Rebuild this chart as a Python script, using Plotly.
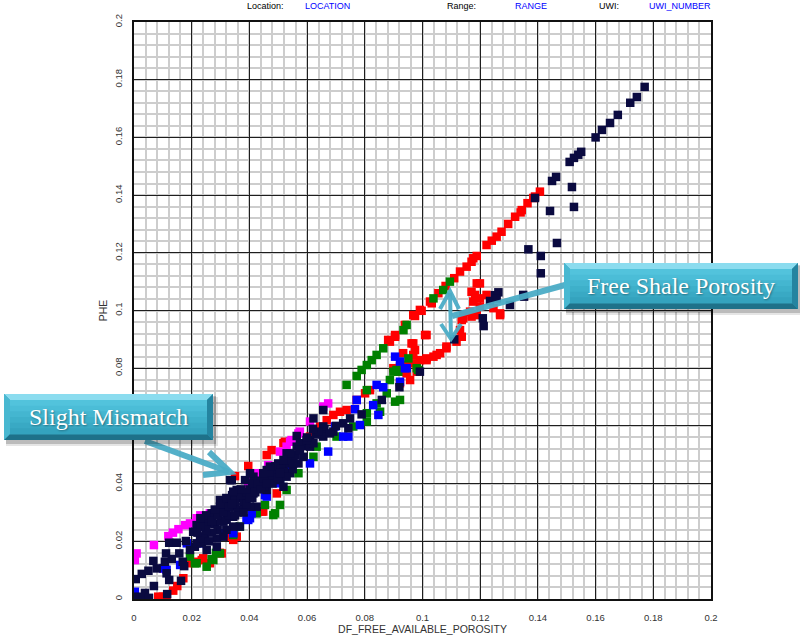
import plotly.graph_objects as go

# ---- data: DF_FREE_AVAILABLE_POROSITY (x) vs PHE (y), one list pair per zone ----
navy_x = [0.0006, 0.0009, 0.0038, 0.0027, 0.0050, 0.0069, 0.0079, 0.0067, 0.0111, 0.0107, 0.0113, 0.0122,
          0.0115, 0.0131, 0.0122, 0.0148, 0.0157, 0.0163, 0.0174, 0.0169, 0.0194, 0.0180, 0.0211, 0.0235,
          0.0217, 0.0205, 0.0246, 0.0263, 0.0269, 0.0287, 0.0298, 0.0310, 0.0333, 0.0344, 0.0367, 0.0379,
          0.0425, 0.0240, 0.0030, 0.0052,
          0.0333, 0.0414, 0.0460, 0.0518, 0.0552, 0.0564, 0.0529, 0.0483, 0.0437, 0.0390, 0.0344, 0.0298,
          0.0275, 0.0252, 0.0229, 0.0217, 0.0321, 0.0367, 0.0402, 0.0344, 0.0310, 0.0287, 0.0252, 0.0460,
          0.0506, 0.0541, 0.0570, 0.0518, 0.0414, 0.0385, 0.0356,
          0.0300, 0.0320, 0.0330, 0.0350, 0.0360, 0.0380, 0.0400, 0.0420, 0.0440, 0.0470, 0.0490, 0.0500,
          0.0530, 0.0280, 0.0290, 0.0270, 0.0260, 0.0310, 0.0340, 0.0360, 0.0390, 0.0410, 0.0450, 0.0480,
          0.0320, 0.0300, 0.0250, 0.0240,
          0.0230, 0.0250, 0.0270, 0.0290, 0.0310, 0.0330, 0.0350, 0.0370, 0.0390, 0.0410, 0.0430, 0.0450,
          0.0470, 0.0490, 0.0510, 0.0540, 0.0560, 0.0590, 0.0610, 0.0630, 0.0660, 0.0280, 0.0300, 0.0320,
          0.0340, 0.0370, 0.0400, 0.0420, 0.0440, 0.0460, 0.0230, 0.0220, 0.0260, 0.0350, 0.0380, 0.0500,
          0.0520, 0.0550,
          0.0991, 0.0920, 0.0859, 0.0789, 0.0749, 0.0725, 0.0743, 0.0691, 0.0656, 0.0656, 0.0622, 0.0564,
          0.0575, 0.0610, 0.0622, 0.0541, 0.0587, 0.0552, 0.0518, 0.0529, 0.0471, 0.0448, 0.0402, 0.0339,
          0.0344, 0.0506, 0.0598, 0.0575, 0.0656, 0.0679, 0.0700, 0.0640, 0.0600, 0.0620,
          0.1110, 0.1209, 0.1212, 0.1263, 0.1251, 0.1234, 0.1303, 0.1352, 0.1257, 0.1349, 0.1410, 0.1410,
          0.1367, 0.1466, 0.1442, 0.1525, 0.1390, 0.1518, 0.1449, 0.1463, 0.1510, 0.1525, 0.1540, 0.1550,
          0.1600, 0.1622, 0.1650, 0.1677, 0.1720, 0.1743, 0.1770]
navy_y = [0.0069, 0.0008, 0.0021, 0.0087, 0.0098, 0.0045, 0.0106, 0.0132, 0.0158, 0.0129, 0.0089, 0.0066,
          0.0017, 0.0139, 0.0195, 0.0195, 0.0158, 0.0063, 0.0114, 0.0129, 0.0170, 0.0201, 0.0181, 0.0193,
          0.0256, 0.0233, 0.0216, 0.0262, 0.0297, 0.0210, 0.0320, 0.0268, 0.0332, 0.0285, 0.0251, 0.0320,
          0.0320, 0.0274, 0.0006, 0.0004,
          0.0412, 0.0424, 0.0447, 0.0459, 0.0493, 0.0528, 0.0505, 0.0424, 0.0389, 0.0366, 0.0343, 0.0343,
          0.0297, 0.0262, 0.0216, 0.0193, 0.0274, 0.0308, 0.0320, 0.0251, 0.0216, 0.0181, 0.0170, 0.0378,
          0.0412, 0.0436, 0.0470, 0.0389, 0.0366, 0.0412, 0.0378,
          0.0300, 0.0310, 0.0290, 0.0320, 0.0350, 0.0340, 0.0380, 0.0390, 0.0410, 0.0420, 0.0440, 0.0470,
          0.0470, 0.0260, 0.0240, 0.0230, 0.0280, 0.0330, 0.0360, 0.0300, 0.0330, 0.0350, 0.0390, 0.0400,
          0.0240, 0.0270, 0.0240, 0.0210,
          0.0250, 0.0290, 0.0270, 0.0290, 0.0300, 0.0320, 0.0340, 0.0360, 0.0370, 0.0400, 0.0400, 0.0420,
          0.0440, 0.0460, 0.0450, 0.0480, 0.0500, 0.0530, 0.0550, 0.0570, 0.0590, 0.0310, 0.0330, 0.0350,
          0.0330, 0.0380, 0.0350, 0.0370, 0.0380, 0.0400, 0.0280, 0.0230, 0.0200, 0.0290, 0.0300, 0.0420,
          0.0440, 0.0450,
          0.0788, 0.0734, 0.0690, 0.0640, 0.0626, 0.0609, 0.0592, 0.0580, 0.0563, 0.0655, 0.0626, 0.0565,
          0.0540, 0.0528, 0.0540, 0.0505, 0.0493, 0.0470, 0.0482, 0.0424, 0.0459, 0.0436, 0.0436, 0.0412,
          0.0372, 0.0436, 0.0551, 0.0516, 0.0598, 0.0574, 0.0600, 0.0580, 0.0560, 0.0590,
          0.0900, 0.0973, 0.0946, 0.1063, 0.1053, 0.1033, 0.1019, 0.1048, 0.1042, 0.1054, 0.1189, 0.1129,
          0.1212, 0.1234, 0.1345, 0.1359, 0.1390, 0.1428, 0.1449, 0.1463, 0.1515, 0.1529, 0.1540, 0.1550,
          0.1600, 0.1626, 0.1650, 0.1678, 0.1720, 0.1740, 0.1775]

red_x = [0.0084, 0.0113, 0.0136, 0.0171, 0.0217, 0.0263, 0.0240, 0.0298, 0.0344, 0.0356, 0.0443, 0.0188,
         0.0100, 0.0150,
         0.0396, 0.0350, 0.0477, 0.0523, 0.0333, 0.0344, 0.0448, 0.0495, 0.0304, 0.0235,
         0.1009, 0.0968, 0.0991, 0.1032, 0.0887, 0.0905, 0.0968, 0.0974, 0.1014, 0.1049, 0.1083, 0.0945,
         0.0957, 0.0933, 0.0922, 0.0818, 0.0801, 0.0772, 0.0737, 0.0714, 0.0691, 0.0668, 0.0645, 0.0622,
         0.0610, 0.0541, 0.0518, 0.0460, 0.0575,
         0.0881, 0.0905, 0.0939, 0.0974, 0.0997, 0.1026, 0.1055, 0.1080, 0.1110, 0.1130, 0.1153, 0.1170,
         0.1176, 0.1188, 0.1222, 0.1240, 0.1257, 0.1274, 0.1297, 0.1321, 0.1340, 0.1344, 0.1364, 0.1384,
         0.1390, 0.1407,
         0.1188, 0.1170, 0.1182, 0.1199, 0.1222, 0.1176, 0.1199, 0.1165, 0.1141, 0.1170, 0.1246, 0.1269,
         0.1188, 0.1130, 0.1136, 0.1118, 0.1083, 0.1061, 0.1038, 0.1014, 0.0991, 0.0968, 0.0945, 0.0922,
         0.1014, 0.0962, 0.0968, 0.0980, 0.0922, 0.0899, 0.0945, 0.1199, 0.1269, 0.1141, 0.1136]
red_y = [0.0008, 0.0008, 0.0029, 0.0072, 0.0129, 0.0124, 0.0141, 0.0160, 0.0214, 0.0216, 0.0303, 0.0124,
         0.0008, 0.0045,
         0.0461, 0.0426, 0.0516, 0.0545, 0.0216, 0.0205, 0.0303, 0.0366, 0.0158, 0.0135,
         0.0915, 0.0984, 0.1002, 0.1025, 0.0892, 0.0909, 0.0886, 0.0863, 0.0828, 0.0846, 0.0869, 0.0805,
         0.0759, 0.0852, 0.0748, 0.0724, 0.0713, 0.0690, 0.0655, 0.0649, 0.0638, 0.0620, 0.0598, 0.0580,
         0.0563, 0.0545, 0.0540, 0.0499, 0.0528,
         0.0898, 0.0915, 0.0950, 0.0981, 0.0999, 0.1031, 0.1060, 0.1085, 0.1112, 0.1135, 0.1152, 0.1169,
         0.1181, 0.1189, 0.1227, 0.1242, 0.1256, 0.1273, 0.1300, 0.1325, 0.1340, 0.1348, 0.1372, 0.1390,
         0.1395, 0.1412,
         0.1094, 0.1065, 0.1054, 0.1042, 0.1054, 0.1031, 0.1014, 0.0996, 0.0984, 0.0979, 0.1008, 0.0984,
         0.0984, 0.0932, 0.0909, 0.0892, 0.0875, 0.0852, 0.0840, 0.0834, 0.0828, 0.0817, 0.0811, 0.0805,
         0.0915, 0.0886, 0.0846, 0.0788, 0.0788, 0.0800, 0.0782, 0.1094, 0.0990, 0.0973, 0.0967]

green_x = [0.0194, 0.0211, 0.0252, 0.0269, 0.0284, 0.0344, 0.0425, 0.0506, 0.0483, 0.0454, 0.0275, 0.0298,
           0.0367, 0.0344, 0.0425, 0.0217,
           0.0483, 0.0506, 0.0529, 0.0489, 0.0570, 0.0622, 0.0633, 0.0702, 0.0760, 0.0807, 0.0905, 0.0922,
           0.0807, 0.0853, 0.0841, 0.0876, 0.0887, 0.0899, 0.0910, 0.0807, 0.0951, 0.0980, 0.0916, 0.0985,
           0.0737, 0.0772, 0.0789, 0.0807, 0.0824, 0.0841, 0.0864, 0.0934, 0.0945, 0.1038, 0.1072, 0.1095]
green_y = [0.0147, 0.0124, 0.0112, 0.0138, 0.0160, 0.0228, 0.0297, 0.0326, 0.0291, 0.0326, 0.0135, 0.0158,
           0.0251, 0.0222, 0.0303, 0.0124,
           0.0412, 0.0418, 0.0378, 0.0297, 0.0436, 0.0493, 0.0528, 0.0563, 0.0598, 0.0615, 0.0684, 0.0690,
           0.0644, 0.0649, 0.0678, 0.0713, 0.0759, 0.0788, 0.0794, 0.0724, 0.0834, 0.0800, 0.0788, 0.0794,
           0.0742, 0.0773, 0.0794, 0.0811, 0.0828, 0.0846, 0.0869, 0.0932, 0.0950, 0.1042, 0.1071, 0.1100]

blue_x = [0.0003, 0.0113, 0.0160, 0.0310, 0.0396, 0.0321, 0.0408, 0.0506, 0.0460, 0.0390, 0.0344, 0.0229,
          0.0183, 0.0102, 0.0541, 0.0905, 0.0922, 0.0945, 0.0922, 0.0864, 0.0841, 0.0829, 0.0772, 0.0766,
          0.0847, 0.0783, 0.0697, 0.0725, 0.0743, 0.0673, 0.0610, 0.0454, 0.0402, 0.0939]
blue_y = [0.0025, 0.0101, 0.0118, 0.0228, 0.0274, 0.0320, 0.0297, 0.0401, 0.0355, 0.0280, 0.0228, 0.0193,
          0.0193, 0.0106, 0.0453, 0.0840, 0.0823, 0.0800, 0.0753, 0.0734, 0.0742, 0.0672, 0.0690, 0.0658,
          0.0638, 0.0603, 0.0598, 0.0563, 0.0563, 0.0511, 0.0470, 0.0360, 0.0280, 0.0800]

magenta_x = [0.0009, 0.0003, 0.0069, 0.0119, 0.0154, 0.0177, 0.0217, 0.0263, 0.0102, 0.0541, 0.0529, 0.0570,
             0.0414, 0.0396, 0.0194, 0.0673, 0.0656, 0.0575, 0.0546, 0.0506, 0.0610, 0.0425, 0.0408, 0.0465,
             0.0135, 0.0230]
magenta_y = [0.0158, 0.0135, 0.0187, 0.0218, 0.0242, 0.0256, 0.0280, 0.0297, 0.0106, 0.0545, 0.0528, 0.0574,
             0.0418, 0.0389, 0.0262, 0.0678, 0.0667, 0.0580, 0.0551, 0.0511, 0.0615, 0.0436, 0.0418, 0.0464,
             0.0230, 0.0290]

axis_ticks = [0, 0.02, 0.04, 0.06, 0.08, 0.1, 0.12, 0.14, 0.16, 0.18, 0.2]
axis_tick_text = ["0", "0.02", "0.04", "0.06", "0.08", "0.1", "0.12", "0.14", "0.16", "0.18", "0.2"]

# ---- page geometry ----
W, H = 800, 636
ML, MR, MT, MB = 134, 89, 22, 37
PW, PH = W - ML - MR, H - MT - MB


def fx(px):
    """page pixel column -> paper x"""
    return (px - ML) / PW


def fy(py):
    """page pixel row -> paper y"""
    return (H - MB - py) / PH


fig = go.Figure()

series = [
    (red_x, red_y, "#ff0000"),
    (magenta_x, magenta_y, "#ff00ff"),
    (green_x, green_y, "#008000"),
    (blue_x, blue_y, "#0000ff"),
    (navy_x, navy_y, "#0a0a40"),
]
for xs, ys, col in series:
    fig.add_trace(go.Scatter(
        x=xs, y=ys, mode="markers",
        marker=dict(symbol="square", size=8.5, color=col, line=dict(width=0)),
        showlegend=False, hoverinfo="x+y",
    ))

shapes = []
annotations = []


def poly(points, fill):
    path = "M " + " L ".join(f"{fx(px):.5f},{fy(py):.5f}" for px, py in points) + " Z"
    shapes.append(dict(type="path", xref="paper", yref="paper", path=path,
                       fillcolor=fill, line=dict(width=0), layer="above"))


def rect(x0, y0, x1, y1, fill):
    shapes.append(dict(type="rect", xref="paper", yref="paper",
                       x0=fx(x0), x1=fx(x1), y0=fy(y1), y1=fy(y0),
                       fillcolor=fill, line=dict(width=0), layer="above"))


def callout(x0, y0, x1, y1, text, size):
    # soft drop shadow
    rect(x0 + 2, y0 + 3, x1 + 5, y1 + 6, "rgba(0,0,0,0.10)")
    rect(x0 + 2, y0 + 2, x1 + 3, y1 + 4, "rgba(0,0,0,0.18)")
    b = 6
    rect(x0, y0, x1, y1, "#2d9ab4")
    poly([(x0, y0), (x1, y0), (x1 - b, y0 + b), (x0 + b, y0 + b)], "#8bdcef")
    poly([(x0, y1), (x1, y1), (x1 - b, y1 - b), (x0 + b, y1 - b)], "#1e7189")
    poly([(x0, y0), (x0 + b, y0 + b), (x0 + b, y1 - b), (x0, y1)], "#49b8d1")
    poly([(x1, y0), (x1 - b, y0 + b), (x1 - b, y1 - b), (x1, y1)], "#2484a0")
    # face with a vertical gradient
    face = ["#52c3dc", "#4bbdd7", "#44b6d0", "#3eb0ca", "#39a9c4", "#34a3be"]
    top, bot = y0 + b, y1 - b
    step = (bot - top) / len(face)
    for i, c in enumerate(face):
        rect(x0 + b, top + i * step, x1 - b, top + (i + 1) * step + 0.6, c)
    annotations.append(dict(
        x=fx((x0 + x1) / 2), y=fy((y0 + y1) / 2), xref="paper", yref="paper",
        text=text, showarrow=False, xanchor="center", yanchor="middle",
        font=dict(family="Liberation Serif", size=size, color="#ffffff",
                  shadow="1px 1px 2px rgba(0,0,0,0.35)"),
    ))


ARROW = "rgba(75,172,198,0.95)"


def seg(p, q, width=5):
    shapes.append(dict(type="path", xref="paper", yref="paper",
                       path=f"M {fx(p[0]):.5f},{fy(p[1]):.5f} L {fx(q[0]):.5f},{fy(q[1]):.5f}",
                       line=dict(color=ARROW, width=width), layer="above"))


def chevron(tip, b1, b2, width=5):
    shapes.append(dict(type="path", xref="paper", yref="paper",
                       path=(f"M {fx(b1[0]):.5f},{fy(b1[1]):.5f} L {fx(tip[0]):.5f},{fy(tip[1]):.5f} "
                             f"L {fx(b2[0]):.5f},{fy(b2[1]):.5f}"),
                       line=dict(color=ARROW, width=width), layer="above"))


# "Slight Mismatch" callout and its arrow
seg((145, 441), (229, 472), 6)
chevron((230, 472), (209, 452), (203, 475), 6)
callout(4, 394, 213, 440, "Slight Mismatch", 24)

# "Free Shale Porosity" callout with its leader and the double-headed gap arrow
seg((450, 293), (451, 337), 4)
chevron((450, 291), (440, 309), (459, 309), 4)
chevron((451, 339), (441, 324), (461, 324), 4)
seg((565, 285), (452, 316), 6)
callout(564, 263, 798, 309, "Free Shale Porosity", 24)

# header strip along the page top
header = [(265, "Location:", "#000000"), (327, "LOCATION", "#0000ff"),
          (461, "Range:", "#000000"), (531, "RANGE", "#0000ff"),
          (609, "UWI:", "#000000"), (680, "UWI_NUMBER", "#0000ff")]
for px, txt, col in header:
    annotations.append(dict(x=fx(px), y=fy(6), xref="paper", yref="paper", text=txt,
                            showarrow=False, xanchor="center", yanchor="middle",
                            font=dict(family="Liberation Sans", size=9, color=col)))

axis_common = dict(
    range=[0, 0.2], tickvals=axis_ticks, ticktext=axis_tick_text,
    showgrid=True, gridcolor="#1e1e1e", gridwidth=1.4,
    minor=dict(dtick=0.004, showgrid=True, gridcolor="#cdcdcd", gridwidth=1.6, ticks=""),
    showline=True, linecolor="#111111", linewidth=2, mirror=True,
    zeroline=False, ticks="", automargin=False,
    tickfont=dict(family="Liberation Sans", size=9.5, color="#333333"),
)

fig.update_layout(
    width=W, height=H, template="none",
    margin=dict(l=ML, r=MR, t=MT, b=MB, pad=0),
    paper_bgcolor="#ffffff", plot_bgcolor="#ffffff",
    xaxis=dict(**axis_common, ticklabelstandoff=9,
               title=dict(text="DF_FREE_AVAILABLE_POROSITY", standoff=0,
                          font=dict(family="Liberation Sans", size=10.5, color="#333333"))),
    yaxis=dict(**axis_common, tickangle=-90, ticklabelstandoff=6,
               title=dict(text="PHE", standoff=4,
                          font=dict(family="Liberation Sans", size=10.5, color="#333333"))),
    shapes=shapes, annotations=annotations, showlegend=False,
)

fig.write_html("out.html")
